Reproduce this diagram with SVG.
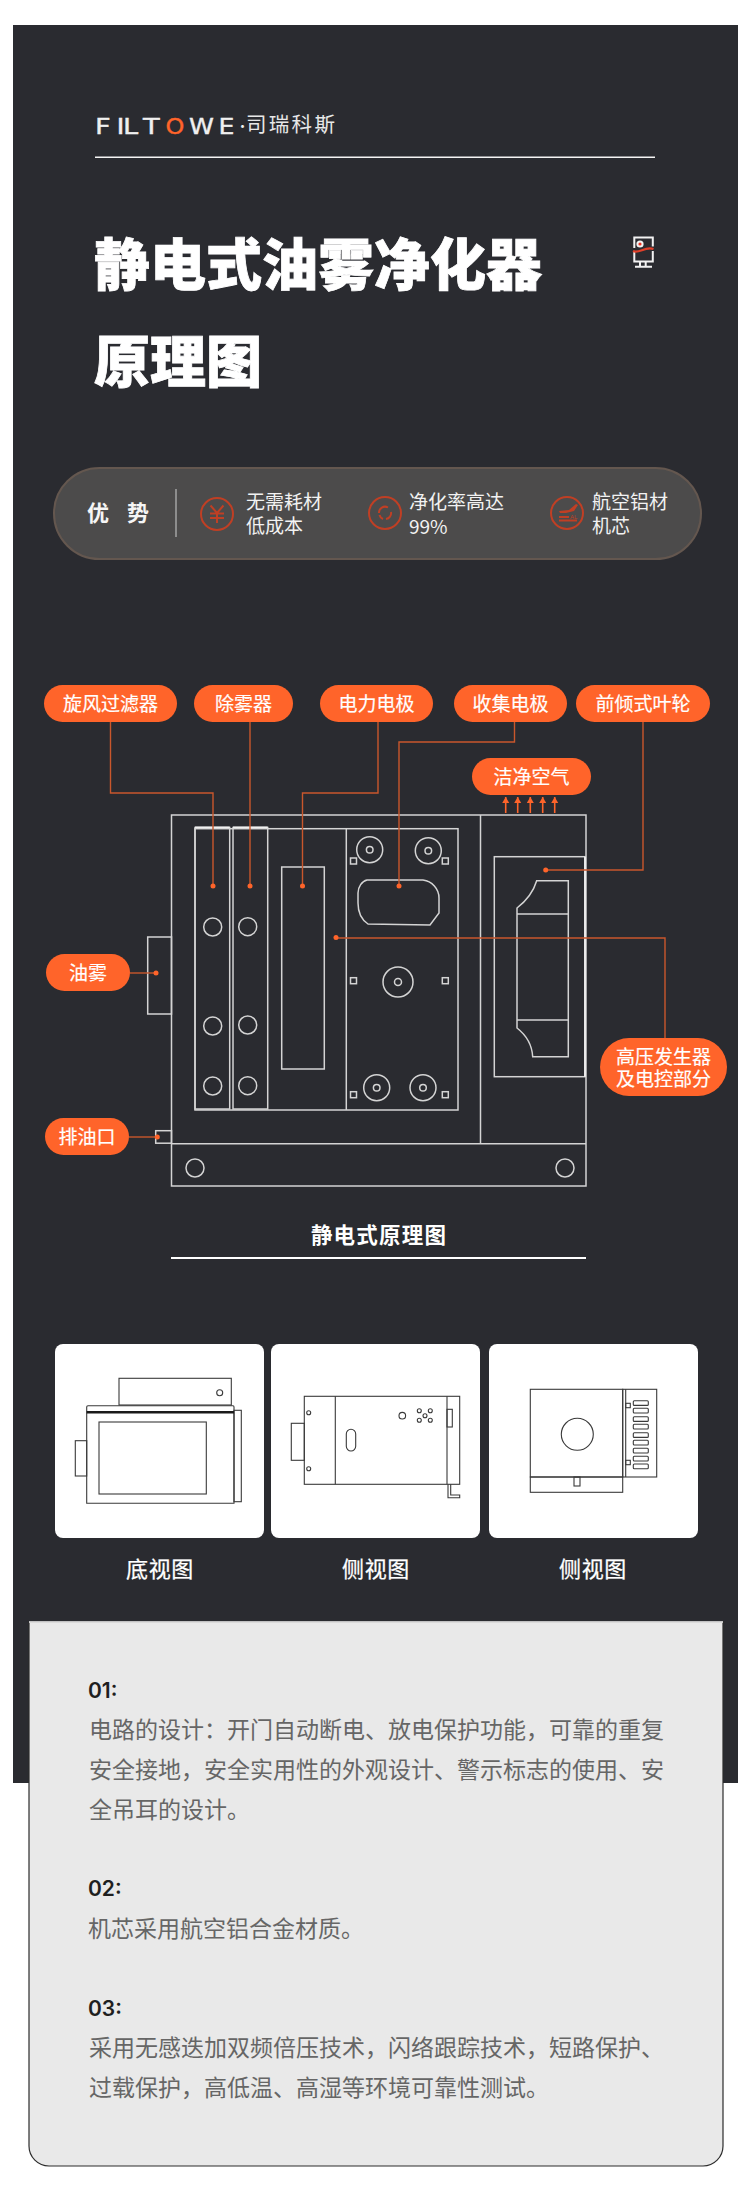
<svg xmlns="http://www.w3.org/2000/svg" width="750" height="2199" viewBox="0 0 750 2199">
<style>
text{font-family:"Noto Sans CJK SC","Noto Sans",sans-serif}
.pill{fill:#ff642a}
.pt{fill:#fff;stroke:#fff;stroke-width:.2;font-size:19px;text-anchor:middle}
.m{fill:none;stroke:#d4d4d4;stroke-width:1.5}
.c{fill:none;stroke:#c9572c;stroke-width:1.4}
.d{fill:#ff642a}
.a{fill:none;stroke:#ff642a;stroke-width:1.6;marker-end:url(#ah)}
.adv{fill:#f2f2f2;font-size:19px}
.ic{fill:none;stroke:#c03f24;stroke-width:2}
.icf{fill:#c03f24}
.card{fill:#fff}
.k{fill:none;stroke:#3a3a3a;stroke-width:1.1}
.cap{fill:#fff;stroke:#fff;stroke-width:.25;font-size:22px;text-anchor:middle;letter-spacing:.6px}
.h{fill:#1f1f1f;font-size:21px;font-family:"Inter","Noto Sans",sans-serif;font-weight:600}
.b{fill:#666;font-size:23px}
.lg{font-family:"DejaVu Sans",sans-serif;font-size:21px;stroke-width:.35}
</style>
<defs><marker id="ah" markerUnits="userSpaceOnUse" markerWidth="8" markerHeight="8" refX="4" refY="0.5" orient="0"><path d="M0.5 6.500L4 0.500L7.500 6.500Z" fill="#ff642a"/></marker></defs>
<rect width="750" height="2199" fill="#fff"/>
<rect id="bg" x="13" y="25" width="725" height="1758" fill="#2a2b30"/>

<g id="logo">
<text class="lg" transform="translate(95 133.500) scale(1.3 1)" fill="#f0f0f0" stroke="#f0f0f0" x="0 16.500 21.500 37">FILT</text>
<text class="lg" transform="translate(165.500 133.500) scale(1.14 1)" fill="#ff642a" stroke="#ff642a" x="0">O</text>
<text class="lg" transform="translate(189 133.500) scale(1.2 1)" fill="#f0f0f0" stroke="#f0f0f0" x="0 24.500">WE</text>
<text x="235.500" y="131" font-size="14" fill="#f0f0f0">·</text>
<text x="246" y="132" font-size="20.500" fill="#e8e8e8" letter-spacing="2.300">司瑞科斯</text>
</g>
<line x1="95" y1="157.300" x2="655" y2="157.300" stroke="#f4f4f4" stroke-width="1.400"/>

<g id="title" fill="#fff" stroke="#fff" stroke-width="0.800" font-size="56" font-weight="900">
<text x="94" y="284.500">静电式油雾净化器</text>
<text x="94" y="382">原理图</text>
</g>
<g id="mark">
<path d="M634.300 248V237.500H652.800V246.500M634.300 252V261.500H652.800V251" fill="none" stroke="#f2f2f2" stroke-width="2"/>
<circle cx="640" cy="244" r="3.600" fill="#f2f2f2"/><circle cx="640" cy="244" r="1.600" fill="#e32"/>
<path d="M633 251C639 254 645 246 653.500 249" fill="none" stroke="#e0402a" stroke-width="2.200"/>
<path d="M640 262V266M645.700 262V266M635 266.800H652" fill="none" stroke="#f2f2f2" stroke-width="2"/>
</g>

<g id="advantages">
<rect x="54" y="468" width="647" height="91" rx="45.500" fill="#4c4b4b" stroke="#64574f" stroke-width="2"/>
<text x="87" y="521" fill="#f5f5f5" font-size="22" font-weight="700" letter-spacing="18">优势</text>
<line x1="176" y1="489" x2="176" y2="537" stroke="#8d8d8d" stroke-width="2"/>
<g id="adv1"><circle class="ic" cx="217" cy="514" r="16"/><path class="ic" d="M210.500 505.500L217 513L223.500 505.500M217 513V523M210 513.500H224M210 518H224"/>
<text class="adv" x="246" y="509">无需耗材</text><text class="adv" x="246" y="533">低成本</text></g>
<g id="adv2"><circle class="ic" cx="385" cy="513" r="16"/><path class="ic" stroke-width="3" d="M379 513A6 6 0 0 1 388 507.500M391 512A6 6 0 0 1 386 519M383 519A6 6 0 0 1 379.500 515"/>
<text class="adv" x="409" y="509">净化率高达</text><text class="adv" x="409" y="533.500">99%</text></g>
<g id="adv3"><circle class="ic" cx="567" cy="513" r="16"/><path class="icf" d="M559 511L569 510L576 504L578 505L574 511L566 513L560 513Z"/><path class="ic" stroke-width="1.300" d="M559 517H569M559 520.500H577"/>
<text x="570" y="519" font-size="6" fill="#c03f24" style="font-family:'Liberation Sans',sans-serif">AL</text>
<text class="adv" x="592" y="509">航空铝材</text><text class="adv" x="592" y="533">机芯</text></g>
</g>

<g id="machine">
<rect class="m" x="171.500" y="815" width="414.500" height="371"/>
<line class="m" x1="171.500" y1="1143.700" x2="586" y2="1143.700" stroke-width="1.800"/>
<line class="m" x1="480.500" y1="815" x2="480.500" y2="1143.700"/>
<rect class="m" x="147.700" y="937" width="23.800" height="77"/>
<rect class="m" x="155.700" y="1130.700" width="15.800" height="12.500" stroke-width="1.800"/>
<rect class="m" x="195" y="828.700" width="263" height="281.300"/>
<line class="m" x1="346.300" y1="828.700" x2="346.300" y2="1110"/>
<rect class="m" x="195" y="827.500" width="34.700" height="281.500"/>
<rect class="m" x="233" y="827.500" width="34.700" height="281.500"/>
<path d="M195 827.300H229.700M233 827.300H267.700" stroke="#f0f0f0" stroke-width="1.800"/>
<rect class="m" x="281.700" y="867" width="42.600" height="202"/>
<g class="m">
<circle cx="212.700" cy="927" r="9"/><circle cx="247.700" cy="926.700" r="9"/><circle cx="212.700" cy="1026" r="9"/><circle cx="247.700" cy="1025" r="9"/><circle cx="212.700" cy="1086" r="9"/><circle cx="247.700" cy="1085.700" r="9"/>
<circle cx="195" cy="1168" r="9"/><circle cx="565" cy="1168" r="9"/>
<circle cx="369.700" cy="849.700" r="13"/><circle cx="369.700" cy="849.700" r="3.300"/>
<circle cx="428.300" cy="850.700" r="13"/><circle cx="428.300" cy="850.700" r="3.300"/>
<circle cx="398" cy="982" r="15"/><circle cx="398" cy="982" r="3.500"/>
<circle cx="376.700" cy="1087.700" r="13"/><circle cx="376.700" cy="1087.700" r="3.300"/>
<circle cx="423" cy="1087.700" r="13"/><circle cx="423" cy="1087.700" r="3.300"/>
<rect x="350.500" y="858" width="6" height="6"/><rect x="350.500" y="977.700" width="6" height="6"/><rect x="350.500" y="1091.700" width="6" height="6"/>
<rect x="442.300" y="858" width="6" height="6"/><rect x="442.300" y="977.700" width="6" height="6"/><rect x="442.300" y="1091.700" width="6" height="6"/>
<path d="M367 880H423C432 881 439 889 439 898V913L430 925L368 924C362 920 358 912 358 903V893C358 887 362 881 367 880Z"/>
</g>
<rect class="m" x="494.300" y="856.700" width="90.700" height="220"/>
<path d="M585 856.700V1076.700" stroke="#f0f0f0" stroke-width="1.800"/>
<path class="m" d="M536.700 880.700H568.300V1056.700H532.700C532 1045 526 1035 517 1028V908C526 901 533 893 536.700 880.700ZM517 914H568.300M517 1020H568.300"/>
</g>

<g id="connectors">
<path class="c" d="M110.500 722V793H213V886"/>
<path class="c" d="M250 722V886"/>
<path class="c" d="M378 722V793H302.500V886"/>
<path class="c" d="M514.500 722V742H399V886"/>
<path class="c" d="M643 722V870H546"/>
<path class="c" d="M336 938H665V1038"/>
<path class="c" d="M130 973H156"/>
<path class="c" d="M129 1137H157"/>
<g class="d"><circle cx="213" cy="886" r="2.500"/><circle cx="250" cy="886" r="2.500"/><circle cx="302.500" cy="886" r="2.500"/><circle cx="399" cy="886" r="2.500"/><circle cx="545.700" cy="870" r="2.500"/><circle cx="336" cy="937.500" r="2.500"/><circle cx="156" cy="973" r="2.500"/><circle cx="157.300" cy="1137" r="2.500"/></g>
<path class="a" d="M505.700 813V797"/><path class="a" d="M517.700 813V797"/><path class="a" d="M530.300 813V797"/><path class="a" d="M542.700 813V797"/><path class="a" d="M554.700 813V797"/>
</g>

<g id="n-cyclone"><rect class="pill" x="44" y="685" width="133" height="37" rx="18.500"/><text class="pt" x="110.500" y="710.500">旋风过滤器</text></g>
<g id="n-demister"><rect class="pill" x="194" y="685" width="99" height="37" rx="18.500"/><text class="pt" x="243.500" y="710.500">除雾器</text></g>
<g id="n-power"><rect class="pill" x="320" y="685" width="113" height="37" rx="18.500"/><text class="pt" x="376.500" y="710.500">电力电极</text></g>
<g id="n-collect"><rect class="pill" x="454" y="685" width="113" height="37" rx="18.500"/><text class="pt" x="510.500" y="710.500">收集电极</text></g>
<g id="n-impeller"><rect class="pill" x="576" y="685" width="134" height="37" rx="18.500"/><text class="pt" x="643" y="710.500">前倾式叶轮</text></g>
<g id="n-clean"><rect class="pill" x="472" y="758" width="119" height="37" rx="18.500"/><text class="pt" x="531.500" y="783.500">洁净空气</text></g>
<g id="n-mist"><rect class="pill" x="46" y="954" width="84" height="37" rx="18.500"/><text class="pt" x="88" y="979.500">油雾</text></g>
<g id="n-drain"><rect class="pill" x="45" y="1118" width="84" height="37" rx="18.500"/><text class="pt" x="87" y="1143.500">排油口</text></g>
<g id="n-hv"><rect class="pill" x="600" y="1038" width="127" height="58" rx="29"/><text class="pt" x="663.500" y="1063.500">高压发生器</text><text class="pt" x="663.500" y="1086">及电控部分</text></g>

<g id="caption"><text x="379" y="1243" fill="#fff" font-size="21.500" font-weight="700" text-anchor="middle" letter-spacing="1.200">静电式原理图</text>
<line x1="171" y1="1258" x2="586" y2="1258" stroke="#fff" stroke-width="2"/></g>

<g id="view1">
<rect class="card" x="55" y="1344" width="209" height="194" rx="8"/>
<g class="k">
<rect x="119" y="1378.300" width="112.300" height="26.700"/><circle cx="219.700" cy="1392.700" r="3"/>
<path d="M88 1405.700H233Q234 1405.700 234 1407V1503.300H86.700V1407Q86.700 1405.700 88 1405.700Z"/>
<rect x="99" y="1422" width="107.300" height="72"/>
<rect x="75.300" y="1440.700" width="11.400" height="35.300"/>
<rect x="234" y="1410.300" width="7.300" height="91.400"/>
</g>
<line x1="86.700" y1="1412.300" x2="234" y2="1412.300" stroke="#1a1a1a" stroke-width="2.600"/>
<text class="cap" x="160" y="1577">底视图</text>
</g>

<g id="view2">
<rect class="card" x="271" y="1344" width="209" height="194" rx="8"/>
<g class="k">
<rect x="304.300" y="1396.300" width="155.400" height="88"/>
<rect x="291.300" y="1423.300" width="13" height="37"/>
<path d="M335.300 1396.300V1484.300M447 1396.300V1484.300"/>
<circle cx="308.700" cy="1412.700" r="2"/><circle cx="308.700" cy="1468.700" r="2"/>
<rect x="346.300" y="1429.300" width="9.400" height="21.700" rx="4.700"/>
<circle cx="402.300" cy="1415.700" r="3.300"/>
<circle cx="419.300" cy="1410.700" r="2"/><circle cx="430.300" cy="1410.700" r="2"/><circle cx="425" cy="1415.700" r="2"/><circle cx="419.300" cy="1420.300" r="2"/><circle cx="430.300" cy="1420.300" r="2"/>
<rect x="447" y="1409.300" width="5.300" height="17.700"/>
<path d="M448 1484.300V1497.700H459.700V1495H450.700V1484.300"/>
</g>
<text class="cap" x="376" y="1577">侧视图</text>
</g>

<g id="view3">
<rect class="card" x="489" y="1344" width="209" height="194" rx="8"/>
<g class="k">
<rect x="530.300" y="1389.300" width="92.400" height="87.700"/>
<rect x="622.700" y="1389.300" width="34" height="87.700"/>
<line x1="625.700" y1="1389.300" x2="625.700" y2="1477"/>
<rect x="530.300" y="1477" width="92.400" height="15.300"/>
<circle cx="577.300" cy="1434.300" r="16"/>
<rect x="574" y="1477" width="6" height="9"/>
<rect x="625.700" y="1403.300" width="4.600" height="4.400"/><rect x="625.700" y="1460.300" width="4.600" height="4.400"/>
<rect x="633.300" y="1400.700" width="15" height="4.700" rx="1"/><rect x="633.300" y="1408.300" width="15" height="4.700" rx="1"/><rect x="633.300" y="1416.700" width="15" height="4.700" rx="1"/><rect x="633.300" y="1424.300" width="15" height="4.700" rx="1"/><rect x="633.300" y="1432.700" width="15" height="4.700" rx="1"/><rect x="633.300" y="1440.300" width="15" height="4.700" rx="1"/><rect x="633.300" y="1448.300" width="15" height="4.700" rx="1"/><rect x="633.300" y="1456.300" width="15" height="4.700" rx="1"/><rect x="633.300" y="1464" width="15" height="4.700" rx="1"/>
</g>
<text class="cap" x="593" y="1577">侧视图</text>
</g>

<g id="notes">
<path d="M29 1622H723V2146A20 20 0 0 1 703 2166H49A20 20 0 0 1 29 2146Z" fill="#e9e9e9" stroke="#2c2c2c" stroke-width="1.200"/>
<line x1="29" y1="1622" x2="723" y2="1622" stroke="#f4f4f4" stroke-width="1.400"/>
<text class="h" x="88" y="1698">01:</text>
<text class="b" x="89" y="1738">电路的设计：开门自动断电、放电保护功能，可靠的重复</text>
<text class="b" x="89" y="1778">安全接地，安全实用性的外观设计、警示标志的使用、安</text>
<text class="b" x="89" y="1818">全吊耳的设计。</text>
<text class="h" x="88" y="1896">02:</text>
<text class="b" x="88" y="1937">机芯采用航空铝合金材质。</text>
<text class="h" x="88" y="2016">03:</text>
<text class="b" x="89" y="2056">采用无感迭加双频倍压技术，闪络跟踪技术，短路保护、</text>
<text class="b" x="89" y="2096">过载保护，高低温、高湿等环境可靠性测试。</text>
</g>
</svg>
